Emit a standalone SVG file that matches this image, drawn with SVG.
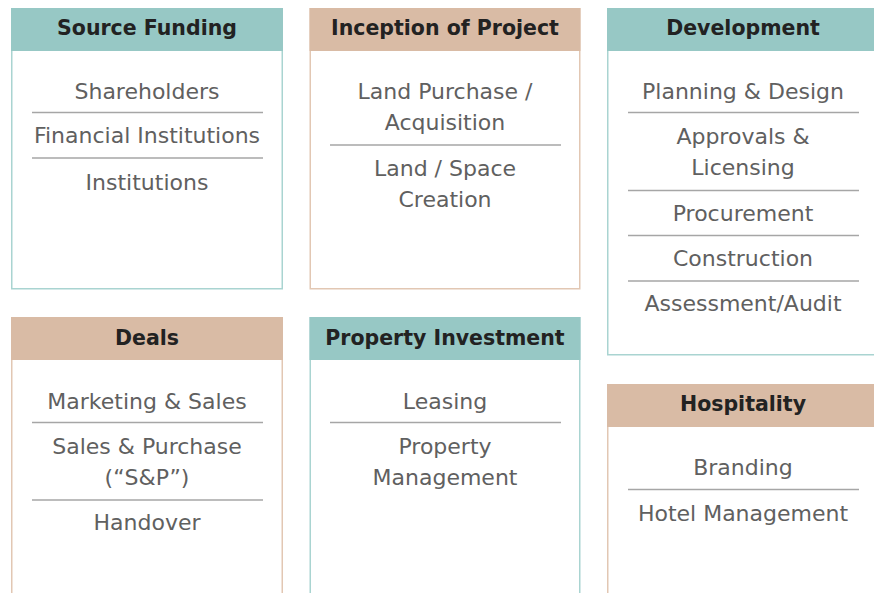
<svg xmlns="http://www.w3.org/2000/svg" width="874" height="593" viewBox="0 0 874 593">
<style>
.bg{fill:#ffffff}
.bt{fill:#ffffff;stroke:#a9d4d1;stroke-width:1.5}
.bb{fill:#ffffff;stroke:#e2c7b3;stroke-width:1.5}
.ht{fill:#97c8c5}
.hb{fill:#d9bba5}
.title{font-family:"DejaVu Sans","Liberation Sans",sans-serif;font-weight:bold;font-size:20.5px;fill:#222222;text-anchor:middle}
.item{font-family:"DejaVu Sans","Liberation Sans",sans-serif;font-size:22px;fill:#606060;text-anchor:middle}
.sep{stroke:#a6a6a6;stroke-width:1.5}
</style>
<rect class="bg" x="0" y="0" width="874" height="593"/>
<g id="source-funding">
<rect class="bt" x="11.75" y="8.75" width="270.5" height="280"/>
<rect class="ht" x="11" y="8" width="272" height="43"/>
<text class="title" x="147" y="34.5">Source Funding</text>
<text class="item" x="147" y="99">Shareholders</text>
<line class="sep" x1="32" y1="112.5" x2="263" y2="112.5"/>
<text class="item" x="147" y="143">Financial Institutions</text>
<line class="sep" x1="32" y1="158" x2="263" y2="158"/>
<text class="item" x="147" y="190">Institutions</text>
</g>
<g id="inception">
<rect class="bb" x="310.25" y="8.75" width="269.5" height="280"/>
<rect class="hb" x="309.5" y="8" width="271" height="43"/>
<text class="title" x="445" y="34.5">Inception of Project</text>
<text class="item" x="445" y="99">Land Purchase /</text>
<text class="item" x="445" y="130">Acquisition</text>
<line class="sep" x1="330" y1="145" x2="561" y2="145"/>
<text class="item" x="445" y="176">Land / Space</text>
<text class="item" x="445" y="207">Creation</text>
</g>
<g id="development">
<rect class="bt" x="607.75" y="8.75" width="275" height="346"/>
<rect class="ht" x="607" y="8" width="276" height="43"/>
<text class="title" x="743" y="34.5">Development</text>
<text class="item" x="743" y="99">Planning &amp; Design</text>
<line class="sep" x1="628" y1="112.5" x2="859" y2="112.5"/>
<text class="item" x="743" y="144">Approvals &amp;</text>
<text class="item" x="743" y="175">Licensing</text>
<line class="sep" x1="628" y1="190.5" x2="859" y2="190.5"/>
<text class="item" x="743" y="221">Procurement</text>
<line class="sep" x1="628" y1="235.5" x2="859" y2="235.5"/>
<text class="item" x="743" y="266">Construction</text>
<line class="sep" x1="628" y1="281" x2="859" y2="281"/>
<text class="item" x="743" y="311">Assessment/Audit</text>
</g>
<g id="deals">
<rect class="bb" x="11.75" y="317.75" width="270.5" height="290"/>
<rect class="hb" x="11" y="317" width="272" height="43"/>
<text class="title" x="147" y="344.5">Deals</text>
<text class="item" x="147" y="409">Marketing &amp; Sales</text>
<line class="sep" x1="32" y1="422.5" x2="263" y2="422.5"/>
<text class="item" x="147" y="454">Sales &amp; Purchase</text>
<text class="item" x="147" y="485">(“S&amp;P”)</text>
<line class="sep" x1="32" y1="500" x2="263" y2="500"/>
<text class="item" x="147" y="530">Handover</text>
</g>
<g id="property-investment">
<rect class="bt" x="310.25" y="317.75" width="269.5" height="290"/>
<rect class="ht" x="309.5" y="317" width="271" height="43"/>
<text class="title" x="445" y="344.5">Property Investment</text>
<text class="item" x="445" y="409">Leasing</text>
<line class="sep" x1="330" y1="422.5" x2="561" y2="422.5"/>
<text class="item" x="445" y="454">Property</text>
<text class="item" x="445" y="485">Management</text>
</g>
<g id="hospitality">
<rect class="bb" x="607.75" y="384.75" width="275" height="230"/>
<rect class="hb" x="607" y="384" width="276" height="43"/>
<text class="title" x="743" y="410.5">Hospitality</text>
<text class="item" x="743" y="475">Branding</text>
<line class="sep" x1="628" y1="489.5" x2="859" y2="489.5"/>
<text class="item" x="743" y="521">Hotel Management</text>
</g>
<g id="connectors"></g>
</svg>
